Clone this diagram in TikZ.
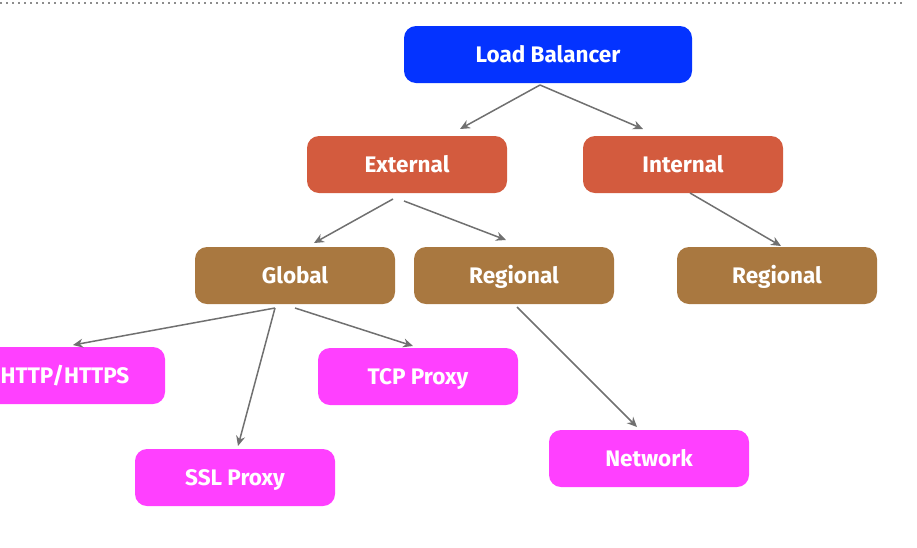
\documentclass[tikz,border=0pt]{standalone}
\usepackage{fontspec}
\setmainfont{Fira Sans}
\usetikzlibrary{arrows.meta}
\definecolor{lbblue}{HTML}{0433FF}
\definecolor{extred}{HTML}{D35B3E}
\definecolor{glbrown}{HTML}{A97840}
\definecolor{leafpink}{HTML}{FF40FF}
\definecolor{arrgray}{HTML}{707070}
\tikzset{
  box/.style={rounded corners=12pt, minimum width=200pt, minimum height=57pt, inner sep=0pt,
    text height=15.5pt, text depth=0pt,
    text=white, font=\fontsize{22.5}{26}\selectfont\bfseries},
  lb/.style={box, fill=lbblue, minimum width=288pt},
  lvlone/.style={box, fill=extred},
  lvltwo/.style={box, fill=glbrown},
  leaf/.style={box, fill=leafpink},
  conn/.style={draw=arrgray, line width=1.5pt, -{Stealth[length=10pt,width=9pt]}},
}
\begin{document}
\begin{tikzpicture}[x=1pt,y=-1pt]
\useasboundingbox (0,0) rectangle (917,547);
\draw[arrgray!80, line width=1.5pt, dash pattern=on 1.5pt off 4.5pt] (0,3) -- (905,3);
\node[lb] (lbn) at (548,54.5) {Load Balancer};
\node[lvlone] (ext) at (407,164.5) {External};
\node[lvlone] (int) at (683,164.5) {Internal};
\node[lvltwo] (glob) at (295,275.5) {Global};
\node[lvltwo] (reg) at (514,275.5) {Regional};
\node[lvltwo] (regr) at (777,275.5) {Regional};
\node[leaf] (http) at (65,375.5) {HTTP/HTTPS};
\node[leaf] (tcp) at (418,376.5) {TCP Proxy};
\node[leaf] (ssl) at (235,477.5) {SSL Proxy};
\node[leaf] (net) at (649,458.5) {Network};
\coordinate (lbs) at (540,85);
\coordinate (exta) at (393,199);
\coordinate (extb) at (404,201);
\coordinate (ints) at (690,193);
\coordinate (gla) at (275,308);
\coordinate (glb) at (295,308);
\coordinate (regs) at (517,307);
\coordinate (extt) at (460,129);
\coordinate (intt) at (643,129);
\coordinate (globt) at (314,243);
\coordinate (regt) at (506,240);
\coordinate (regrt) at (781,246);
\coordinate (httpt) at (73,345);
\coordinate (sslt) at (238,446);
\coordinate (tcpt) at (413,346);
\coordinate (nett) at (637,427);
\draw[conn] (lbs) -- (extt);
\draw[conn] (lbs) -- (intt);
\draw[conn] (exta) -- (globt);
\draw[conn] (extb) -- (regt);
\draw[conn] (ints) -- (regrt);
\draw[conn] (gla) -- (httpt);
\draw[conn] (gla) -- (sslt);
\draw[conn] (glb) -- (tcpt);
\draw[conn] (regs) -- (nett);
\end{tikzpicture}
\end{document}
